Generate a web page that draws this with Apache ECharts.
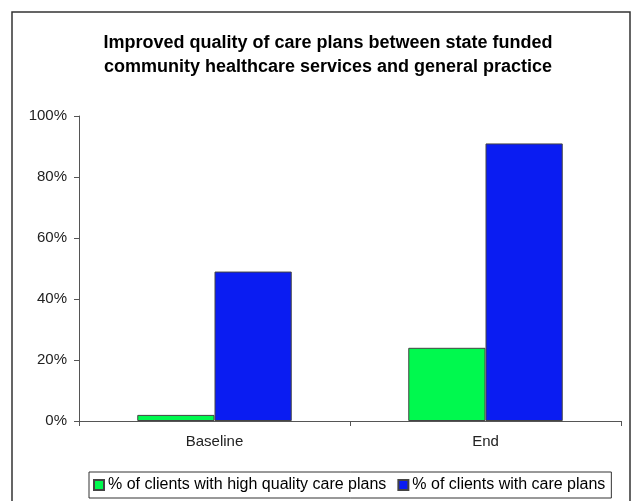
<!DOCTYPE html>
<html>
<head>
<meta charset="utf-8">
<script src="https://cdn.jsdelivr.net/npm/echarts@6/dist/echarts.min.js"></script>
<style>
  html, body { margin: 0; padding: 0; background: #fff; }
  #chart { width: 637px; height: 501px; }
</style>
</head>
<body>
<div id="chart"></div>
<script>
// Categories and series values (percent)
const categories = ['Baseline', 'End'];
const highQualityPlans = [2, 24];
const anyCarePlans = [49, 91];
const yTicks = [0, 20, 40, 60, 80, 100];

const seriesNames = [
  '% of clients with high quality care plans',
  '% of clients with care plans'
];

const chart = echarts.init(document.getElementById('chart'), null, { renderer: 'canvas' });

const font = 'Liberation Sans, Arial, sans-serif';

chart.setOption({
  animation: false,
  backgroundColor: '#ffffff',
  title: {
    text: 'Improved quality of care plans between state funded\ncommunity healthcare services and general practice',
    left: 323,
    textAlign: 'center',
    top: 26,
    textStyle: {
      fontFamily: font,
      fontWeight: 'bold',
      fontSize: 18,
      lineHeight: 24,
      color: '#000'
    }
  },
  graphic: [{
    type: 'rect',
    shape: { x: 12, y: 12, width: 618, height: 520 },
    style: { fill: 'none', stroke: '#333', lineWidth: 1.5 },
    silent: true
  }],
  grid: {
    left: 79,
    right: 16,
    top: 116,
    bottom: 80
  },
  legend: {
    data: seriesNames,
    left: 89,
    top: 472,
    itemWidth: 10,
    itemHeight: 10,
    itemGap: 11,
    padding: [5, 6, 5, 4],
    borderColor: '#333',
    borderWidth: 1,
    icon: 'rect',
    textStyle: {
      fontFamily: font,
      fontSize: 16,
      color: '#000',
      padding: [0, 0, 0, -1]
    }
  },
  xAxis: {
    type: 'category',
    data: categories,
    axisLine: { lineStyle: { color: '#555', width: 1 } },
    axisTick: { show: true, alignWithLabel: false, length: 5, lineStyle: { color: '#555' } },
    axisLabel: {
      fontFamily: font,
      fontSize: 15,
      color: '#222',
      margin: 13
    },
    splitLine: { show: false }
  },
  yAxis: {
    type: 'value',
    min: 0,
    max: 100,
    interval: 20,
    axisLine: { show: true, lineStyle: { color: '#555', width: 1 } },
    axisTick: { show: true, length: 5, lineStyle: { color: '#555' } },
    axisLabel: {
      fontFamily: font,
      fontSize: 15,
      color: '#222',
      margin: 12,
      formatter: function (v) { return yTicks.indexOf(v) >= 0 ? v + '%' : ''; }
    },
    splitLine: { show: false }
  },
  series: [
    {
      name: seriesNames[0],
      type: 'bar',
      data: highQualityPlans,
      barGap: '0%',
      barCategoryGap: '43%',
      itemStyle: { color: '#00f94e', borderColor: '#444', borderWidth: 1 }
    },
    {
      name: seriesNames[1],
      type: 'bar',
      data: anyCarePlans,
      barGap: '0%',
      barCategoryGap: '43%',
      itemStyle: { color: '#0a1cf2', borderColor: '#444', borderWidth: 1 }
    }
  ]
});
</script>
</body>
</html>
